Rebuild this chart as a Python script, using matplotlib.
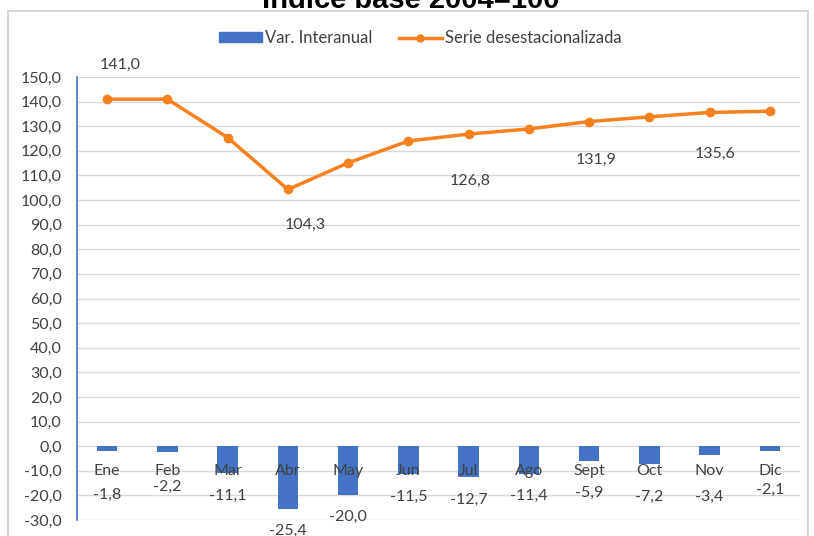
import matplotlib.pyplot as plt
from matplotlib.patches import Rectangle
from matplotlib.lines import Line2D
from matplotlib.patches import Patch

# monthly data
months = ['Ene', 'Feb', 'Mar', 'Abr', 'May', 'Jun', 'Jul', 'Ago', 'Sept', 'Oct', 'Nov', 'Dic']
var_interanual = [-1.8, -2.2, -11.1, -25.4, -20.0, -11.5, -12.7, -11.4, -5.9, -7.2, -3.4, -2.1]
serie_desest = [141.0, 141.0, 125.4, 104.3, 115.1, 124.0, 126.8, 128.9, 131.9, 133.8, 135.6, 136.1]

# which points of the line get a label, and where excel put them (pixels)
line_label_idx = [0, 3, 6, 8, 10]
line_label_off = [(13, 34), (17, -35), (2, -47), (7, -38), (6, -41)]
# vertical offsets (pixels) of the bar labels from the bar end
bar_label_off = [-44, -35, -22, -22, -22, -22, -22, -22, -32, -33, -42, -39]

blue = '#4472C4'
orange = '#F7811E'
txt = '#404040'
fs = 11.5

plt.rcParams['font.family'] = ['Lato', 'DejaVu Sans']

fig = plt.figure(figsize=(8.14, 5.36), dpi=100)
ax = fig.add_axes([77 / 814, 1 - 520 / 536, 723 / 814, 443 / 536])

x = list(range(len(months)))
ax.bar(x, var_interanual, width=0.34, color=blue, zorder=2)
ax.plot(x, serie_desest, color=orange, lw=2.5, marker='o', ms=6, zorder=3)

ax.set_xlim(-0.5, len(months) - 0.5)
ax.set_ylim(-30, 150)
ax.set_yticks(range(-30, 151, 10))
ax.set_yticklabels([f'{v:.1f}'.replace('.', ',') for v in range(-30, 151, 10)],
                   fontsize=fs, color=txt)
ax.tick_params(axis='y', length=0, pad=11)
ax.set_xticks([])
ax.grid(axis='y', color='#D9D9D9', lw=1, zorder=0)
for s in ['top', 'right', 'bottom']:
    ax.spines[s].set_visible(False)
ax.spines['left'].set_color(blue)
ax.spines['left'].set_linewidth(1.2)

# month names sit just under the zero line
for i, m in enumerate(months):
    ax.text(i, -10, m, ha='center', va='center', fontsize=fs, color=txt, zorder=4)

for i, off in zip(line_label_idx, line_label_off):
    ax.annotate(f'{serie_desest[i]:.1f}'.replace('.', ','), (i, serie_desest[i]),
                xytext=off, textcoords='offset pixels', ha='center', va='center',
                fontsize=fs, color=txt)

for i, v in enumerate(var_interanual):
    ax.annotate(f'{v:.1f}'.replace('.', ','), (i, v),
                xytext=(0, bar_label_off[i]), textcoords='offset pixels',
                ha='center', va='center', fontsize=fs, color=txt, annotation_clip=False)

handles = [Patch(color=blue, label='Var. Interanual'),
           Line2D([], [], color=orange, lw=2.5, marker='o', ms=5, label='Serie desestacionalizada')]
fig.legend(handles=handles, loc='center', bbox_to_anchor=(420 / 814, 1 - 38 / 536), ncol=2,
           frameon=False, fontsize=12, handlelength=2.6, handleheight=0.55, columnspacing=1.6,
           handletextpad=0.15, labelcolor=txt)

fig.patches.append(Rectangle((8 / 814, -0.01), 800 / 814, 1 - 11 / 536 + 0.01,
                             transform=fig.transFigure, fill=False, ec='#D0D0D0', lw=1.2))
fig.text(411 / 814, 1 - 8 / 536, 'Índice base 2004=100', ha='center', va='baseline',
         fontsize=21, fontweight='bold', family='Liberation Sans', color='black')

fig.savefig('out.png', dpi=100)
